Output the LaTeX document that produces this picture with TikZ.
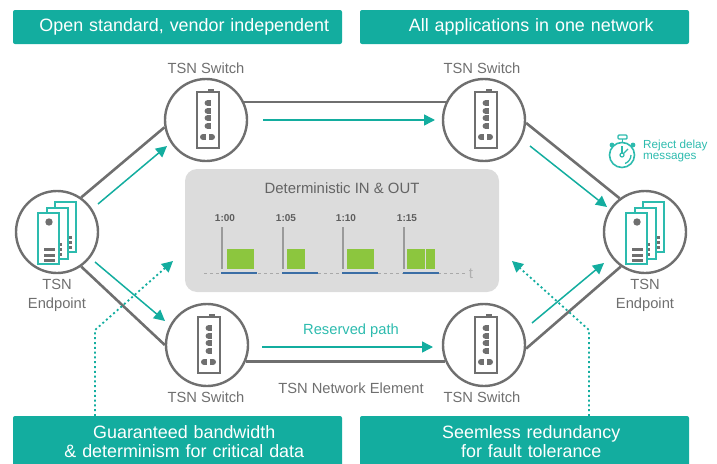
\documentclass[tikz,border=0pt]{standalone}
\usepackage{fontspec}
\setmainfont{Liberation Sans}
\usetikzlibrary{arrows.meta}
\definecolor{teal1}{HTML}{13AD9F}
\definecolor{teal2}{HTML}{2DBBAE}
\definecolor{graya}{HTML}{6F6F6F}
\definecolor{grayb}{HTML}{DCDCDC}
\definecolor{greena}{HTML}{8CC63E}
\definecolor{bluea}{HTML}{3B6EA5}
\newcommand{\fs}[1]{\fontsize{#1}{#1}\selectfont}
\newcommand{\nudge}{\hspace*{13.5pt}}
\tikzset{
  x=1pt,y=-1pt,
  banner/.style={fill=teal1,rounded corners=2pt,text=white,text width=329pt,align=center,inner sep=0pt,font=\fs{17.9}},
  hub/.style={circle,draw=graya,line width=2.4pt,fill=white,minimum size=82pt,inner sep=0pt},
  link/.style={draw=graya,line width=2.6pt},
  flow/.style={draw=teal1,line width=1.5pt,-{Triangle[length=11pt,width=11pt]}},
  dots/.style={draw=teal1,line width=1.8pt,dash pattern=on 2pt off 2.8pt,-{Triangle[length=11pt,width=11pt]}},
  lab/.style={text=graya,inner sep=0pt,align=center,font=\fs{14.7}},
  tick/.style={text=graya!85!black,inner sep=0pt,font=\fs{10}\bfseries},
  bar/.style={fill=greena,draw=none},
  devframe/.style={draw=teal2,line width=1.3pt,fill=white},
  swframe/.style={draw=graya,line width=1.1pt,fill=white},
  switchicon/.pic={
    \fill[graya] (2,-31) rectangle (8,-28);
    \draw[swframe] (-9,-28) rectangle (13,28);
    \foreach \yy in {-17,-9,-2,6}{
      \fill[graya] (1.5,\yy) circle[radius=2.9pt];
      \fill[graya] (1.5,\yy-2.9) rectangle (4.8,\yy+2.9);
    }
    \fill[graya] (-3,17) circle[radius=3pt];
    \fill[graya] (-3,14) rectangle (0,20);
    \fill[graya] (6,17) circle[radius=3pt];
    \fill[graya] (3,14) rectangle (6,20);
  },
  endicon/.pic={
    \draw[devframe] (-2,-30) rectangle (19,20);
    \fill[graya] (11,4) rectangle (15,7);
    \fill[graya] (11,9) rectangle (15,12);
    \fill[graya] (11,14) rectangle (15,17);
    \draw[devframe] (-10,-24) rectangle (11,27);
    \fill[graya] (2,11) rectangle (5,14);
    \fill[graya] (2,16) rectangle (5,19);
    \fill[graya] (2,21) rectangle (5,24);
    \draw[devframe] (-19,-19) rectangle (2,32);
    \fill[graya] (-8,-10) circle[radius=3.7pt];
    \fill[graya] (-13,16) rectangle (-2,19);
    \fill[graya] (-13,22) rectangle (-2,25);
    \fill[graya] (-13,27) rectangle (-2,30);
  },
}
\begin{document}
\begin{tikzpicture}
\useasboundingbox (0,0) rectangle (717,463);
% banners
\node[banner,minimum height=34pt] (b1) at (177.5,27) {\nudge Open standard, vendor independent};
\node[banner,minimum height=34pt] (b2) at (524.5,27) {\nudge All applications in one network};
\begin{scope}
\clip (0,0) rectangle (717,463);
\node[banner,minimum height=52pt] (b3) at (177.5,442) {\nudge Guaranteed bandwidth\\[1pt]\nudge \& determinism for critical data};
\node[banner,minimum height=52pt] (b4) at (524.5,442) {\nudge Seemless redundancy\\[1pt]\nudge for fault tolerance};
\end{scope}
% hubs
\node[hub] (ep1) at (57,232) {};
\node[hub] (sw1) at (206,120) {};
\node[hub] (sw2) at (484,120) {};
\node[hub] (sw3) at (207,345) {};
\node[hub] (sw4) at (484,345) {};
\node[hub] (ep2) at (645,232) {};
\pic at (ep1.center) {endicon};
\pic at (ep2.center) {endicon};
\pic at (sw1.center) {switchicon};
\pic at (sw2.center) {switchicon};
\pic at (sw3.center) {switchicon};
\pic at (sw4.center) {switchicon};
% links
\draw[link] (ep1.55) -- (sw1.190);
\draw[link] (ep1.-55) -- (sw3.180);
\draw[link] (sw1.25) -- (sw2.155);
\draw[link] (sw3.-23) -- (sw4.-157);
\draw[link] (sw2.-4) -- (ep2.127);
\draw[link] (sw4.-5) -- (ep2.-125);
% centre panel
\node[fill=grayb,rounded corners=12pt,minimum width=314pt,minimum height=123pt,inner sep=0pt] (panel) at (342,230.5) {};
\node[lab,font=\fs{14.9},text=graya!90!black] (ptitle) at (342,188) {Deterministic IN \& OUT};
\coordinate (ta) at (204,273);
\coordinate (tb) at (465,273);
\draw[graya!60,line width=1pt,dash pattern=on 3pt off 3pt] (ta) -- (tb);
\node[text=graya!55,inner sep=0pt,font=\fs{15}] (tlab) at (471,274) {t};
\foreach \nm/\xa/\lab in {a/222/1:00,b/283/1:05,c/343/1:10,d/404/1:15}{
  \node[tick] (tk\nm) at (\xa+3,218.5) {\lab};
  \draw[graya!70,line width=1.2pt] (\xa,227) -- (\xa,269);
  \fill[bluea] (\xa-1,272) rectangle (\xa+35,274.4);
}
\fill[bar] (227,249) rectangle (254,269);
\fill[bar] (287,249) rectangle (305,269);
\fill[bar] (347,249) rectangle (374,269);
\fill[bar] (407,249) rectangle (425,269);
\fill[bar] (426,249) rectangle (435,269);
% flows
\coordinate (f1a) at (263,120); \coordinate (f1b) at (435,120);
\coordinate (f2a) at (262,347); \coordinate (f2b) at (433,347);
\coordinate (f3a) at (98,204);  \coordinate (f3b) at (167,146);
\coordinate (f4a) at (95,262);  \coordinate (f4b) at (165,321);
\coordinate (f5a) at (530,146); \coordinate (f5b) at (607,207);
\coordinate (f6a) at (532,323); \coordinate (f6b) at (604,263);
\draw[flow] (f1a) -- (f1b);
\draw[flow] (f2a) -- (f2b);
\draw[flow] (f3a) -- (f3b);
\draw[flow] (f4a) -- (f4b);
\draw[flow] (f5a) -- (f5b);
\draw[flow] (f6a) -- (f6b);
% dotted
\coordinate (d1a) at (95,416); \coordinate (d1m) at (95,330); \coordinate (d1b) at (173,261);
\coordinate (d2a) at (589,416); \coordinate (d2m) at (589,330); \coordinate (d2b) at (512,261);
\draw[dots] (d1a) -- (d1m) -- (d1b);
\draw[dots] (d2a) -- (d2m) -- (d2b);
% labels
\node[lab] (l1) at (206,68) {TSN Switch};
\node[lab] (l2) at (482,68) {TSN Switch};
\node[lab] (l3) at (206,397) {TSN Switch};
\node[lab] (l4) at (482,397) {TSN Switch};
\node[lab] (l5) at (351,388) {TSN Network Element};
\node[lab,text=teal2] (l6) at (351,331) {Reserved path};
\node[lab] (l7) at (57,295.5) {TSN\\[4pt]Endpoint};
\node[lab] (l8) at (645,295.5) {TSN\\[4pt]Endpoint};
% stopwatch
\node[draw=teal2,line width=1.6pt,circle,minimum size=25pt,inner sep=0pt] (watch) at (622,155) {};
\draw[teal2,line width=1.4pt,rounded corners=1pt] (618,135) rectangle (627,139);
\draw[teal2,line width=1.6pt] (622.5,139) -- (622.5,142);
\fill[teal2] (612,145) circle[radius=2.4pt];
\fill[teal2] (633,145) circle[radius=2.4pt];
\draw[teal2,line width=1.2pt] (watch.center) circle[radius=2pt];
\draw[teal2,line width=1.3pt] (622,153) -- (622,146);
\draw[teal2,line width=1.3pt] (623.5,153.5) -- (628,149);
\draw[teal2,line width=1.3pt] (631,155) arc[start angle=0,end angle=-70,radius=9pt];
\node[anchor=west,text=teal2,inner sep=0pt,font=\fs{11.7}] (r1) at (643,145) {Reject delay};
\node[anchor=west,text=teal2,inner sep=0pt,font=\fs{11.7}] (r2) at (643,158) {messages};
\end{tikzpicture}
\end{document}
